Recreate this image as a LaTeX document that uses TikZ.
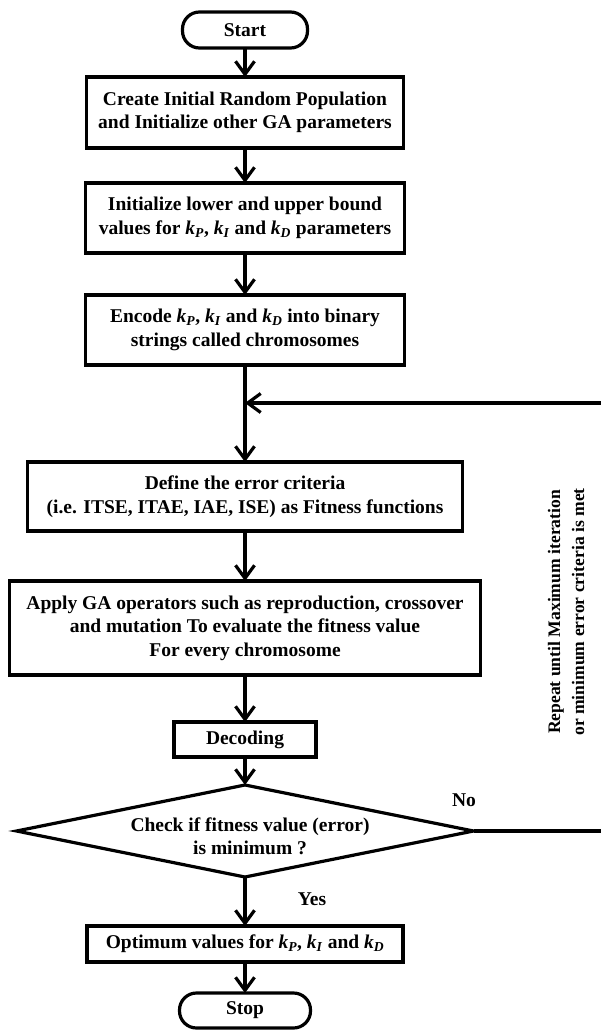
\documentclass[tikz,border=0pt]{standalone}
\usepackage{fontspec}
\setmainfont{Liberation Serif}
\usetikzlibrary{arrows.meta,shapes.geometric}
\newcommand\kx[1]{\textit{k}\textsubscript{\textit{#1}}}
\begin{document}
\begin{tikzpicture}[x=1pt,y=-1pt,
  font=\fontsize{19.5}{23.5}\selectfont\bfseries,
  every node/.style={inner sep=0pt, outer sep=0pt},
  box/.style={draw, line width=3.2pt, align=center, rectangle},
  term/.style={draw, line width=3.2pt, rounded corners=17pt, align=center},
  flow/.style={line width=3.2pt, -{Straight Barb[length=13pt,width=19pt]}},
  plain/.style={line width=3.2pt},
  lbl/.style={align=center}]
\useasboundingbox (0,0) rectangle (600,1030);

\node[term, minimum width=125pt, minimum height=36pt] (start) at (245,30) {Start};
\node[box, minimum width=317pt, minimum height=71pt] (b1) at (245,112.5)
  {Create Initial Random Population\\and Initialize other GA parameters};
\node[box, minimum width=319pt, minimum height=70pt] (b2) at (245,218)
  {Initialize lower and upper bound\\values for \kx{P}, \kx{I} and \kx{D} parameters};
\node[box, minimum width=319pt, minimum height=70pt] (b3) at (245,330)
  {Encode \kx{P}, \kx{I} and \kx{D} into binary\\strings called chromosomes};
\coordinate (j) at (245,403);
\node[box, minimum width=435pt, minimum height=69pt] (b4) at (245,496.5)
  {Define the error criteria\\(i.e. ITSE, ITAE, IAE, ISE) as Fitness functions};
\node[box, minimum width=471pt, minimum height=94pt] (b5) at (245,628)
  {Apply GA operators such as reproduction, crossover\\and mutation To evaluate the fitness value\\For every chromosome};
\node[box, minimum width=142pt, minimum height=35pt] (dec) at (245,739.5) {Decoding};
\node[diamond, draw, line width=3.2pt, minimum width=457pt, minimum height=92pt] (dia) at (245,831) {};
\node[lbl] (diat) at (250,836.5) {Check if fitness value (error)\\is minimum ?};
\node[box, minimum width=316pt, minimum height=36pt] (opt) at (245,944)
  {Optimum values for \kx{P}, \kx{I} and \kx{D}};
\node[term, minimum width=131pt, minimum height=35pt] (stop) at (245,1010.5) {Stop};

\node[lbl] (yes) at (312,899) {Yes};
\node[lbl] (no) at (464,800) {No};
\node[lbl, rotate=90, font=\fontsize{17.6}{24}\selectfont\bfseries] (rep) at (566,612)
  {Repeat until Maximum iteration\\or minimum error criteria is met};

\coordinate (r1) at (605,403);
\coordinate (r2) at (605,831);

\draw[flow] (start) -- (b1);
\draw[flow] (b1) -- (b2);
\draw[flow] (b2) -- (b3);
\draw[plain] (b3) -- (j);
\draw[flow] (j) -- (b4);
\draw[flow] (b4) -- (b5);
\draw[flow] (b5) -- (dec);
\draw[flow] (dec) -- (dia);
\draw[flow] (dia) -- (opt);
\draw[flow] (opt) -- (stop);
\draw[flow] (dia.east) -- (r2) -- (r1) -- (j);
\end{tikzpicture}
\end{document}
